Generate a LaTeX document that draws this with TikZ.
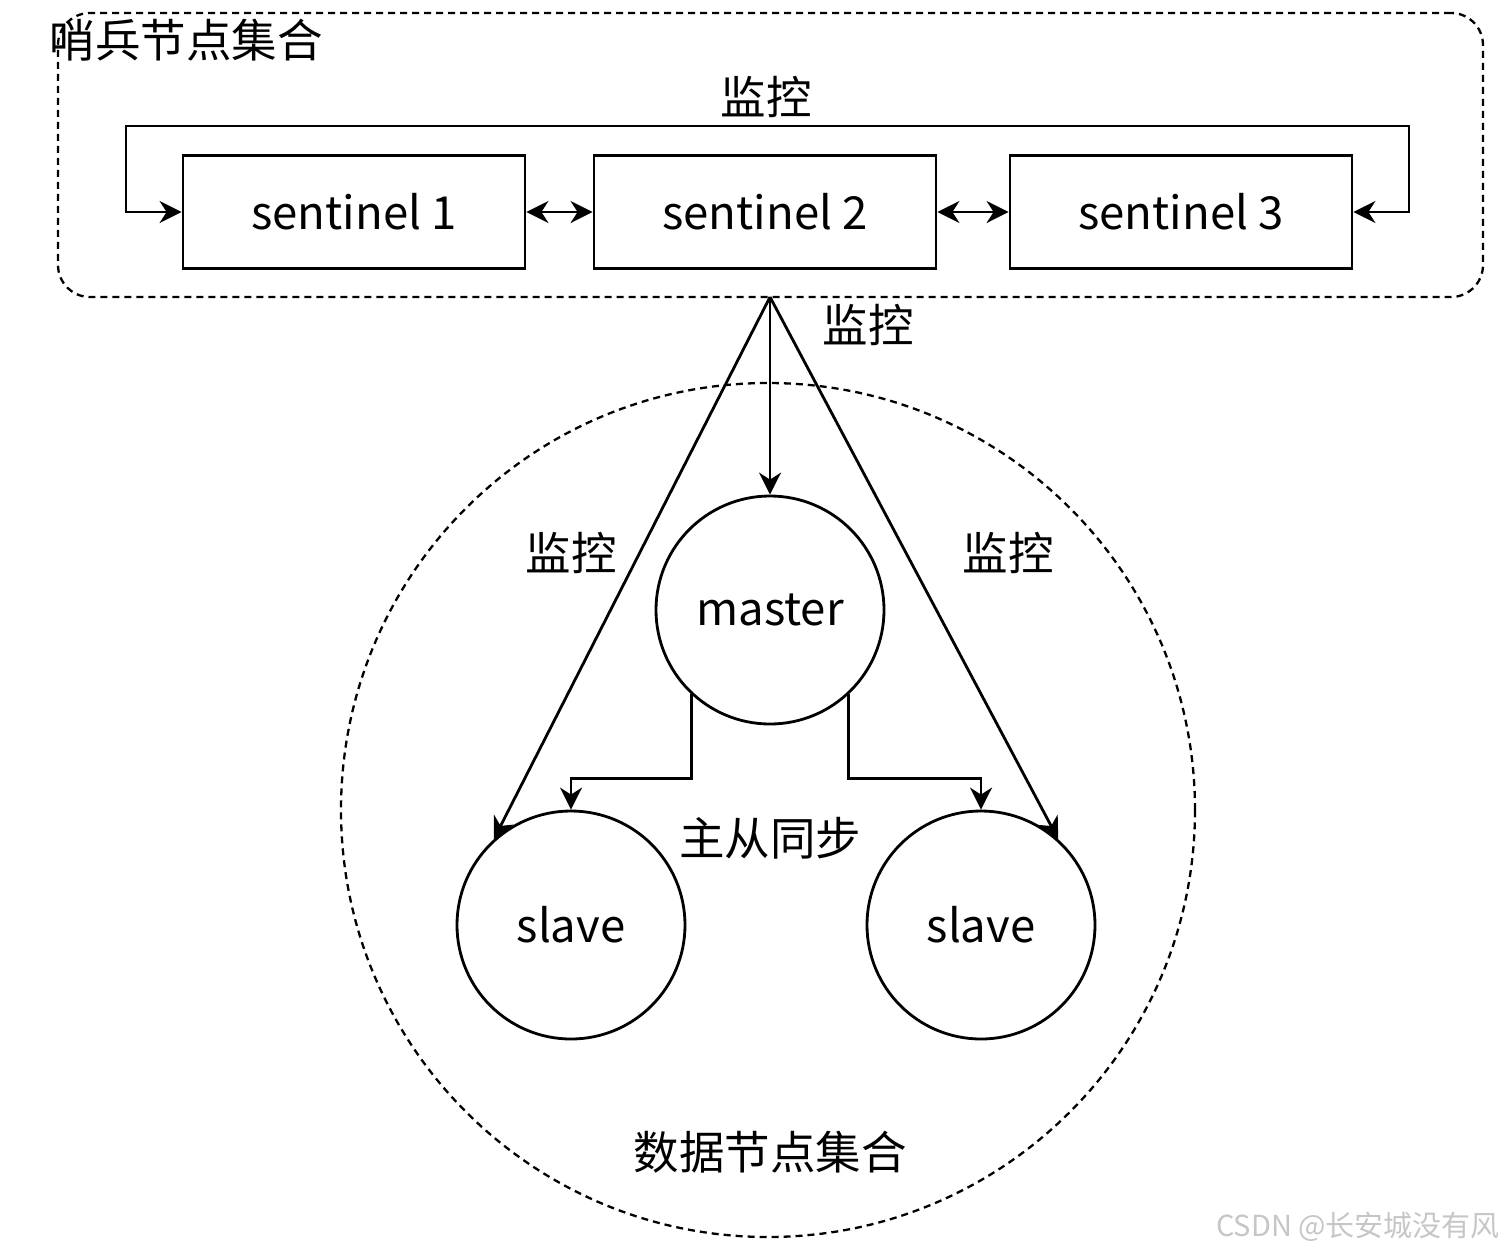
\documentclass[tikz,border=0pt]{standalone}
\usepackage{fontspec}
\newfontfamily\cjk{Noto Sans CJK SC}
\usetikzlibrary{arrows.meta}
\begin{document}
\begin{tikzpicture}[x=1pt,y=-1pt,
  every node/.style={font=\cjk\fontsize{45.5}{52}\selectfont, inner sep=0pt},
  sbox/.style={draw, line width=2.8pt, minimum width=342pt, minimum height=113pt},
  dnode/.style={circle, draw, line width=2.8pt, minimum size=228pt},
  grp/.style={draw, line width=2.3pt, dash pattern=on 7pt off 5pt},
  conn/.style={line width=2.8pt, -{Stealth[length=22pt,width=22pt,inset=7pt]}},
  bconn/.style={line width=2.8pt, {Stealth[length=22pt,width=22pt,inset=7pt]}-{Stealth[length=22pt,width=22pt,inset=7pt]}},
  wm/.style={font=\cjk\fontsize{29}{33}\selectfont, text=gray!45}
]
\useasboundingbox (0,0) rectangle (1508,1254);
% groups
\node[grp, rounded corners=32pt, minimum width=1425pt, minimum height=284pt] (sgroup) at (770.5,155) {};
\node[grp, circle, minimum size=854pt] (dgroup) at (768,810) {};
\node (stitle) at (186,40) {哨兵节点集合};
\node (dtitle) at (770,1152) {数据节点集合};
% sentinels
\node[sbox] (s1) at (354,212) {sentinel 1};
\node[sbox] (s2) at (765,212) {sentinel 2};
\node[sbox] (s3) at (1181,212) {sentinel 3};
\draw[bconn] (s1) -- (s2);
\draw[bconn] (s2) -- (s3);
\coordinate (la) at (126,126);
\coordinate (ra) at (1409,126);
\draw[bconn] (s1.west) -| (la) -- (ra) |- (s3.east);
\node (mtop) at (766,97) {监控};
% data nodes
\node[dnode] (master) at (770,610) {master};
\node[dnode] (sl) at (571,925) {slave};
\node[dnode] (sr) at (981,925) {slave};
\coordinate (apex) at (770,297);
\draw[conn] (apex) -- (master.north);
\draw[conn] (apex) -- (sl.132);
\draw[conn] (apex) -- (sr.48);
\node (mmid) at (868,325) {监控};
\node (mleft) at (571,553) {监控};
\node (mright) at (1008,553) {监控};
\draw[conn] (master.227) -- ++(0,84) -| (sl.north);
\draw[conn] (master.313) -- ++(0,84) -| (sr.north);
\node (sync) at (770,838) {主从同步};
\node[wm] (wmark) at (1358,1227) {CSDN @长安城没有风};
\end{tikzpicture}
\end{document}
